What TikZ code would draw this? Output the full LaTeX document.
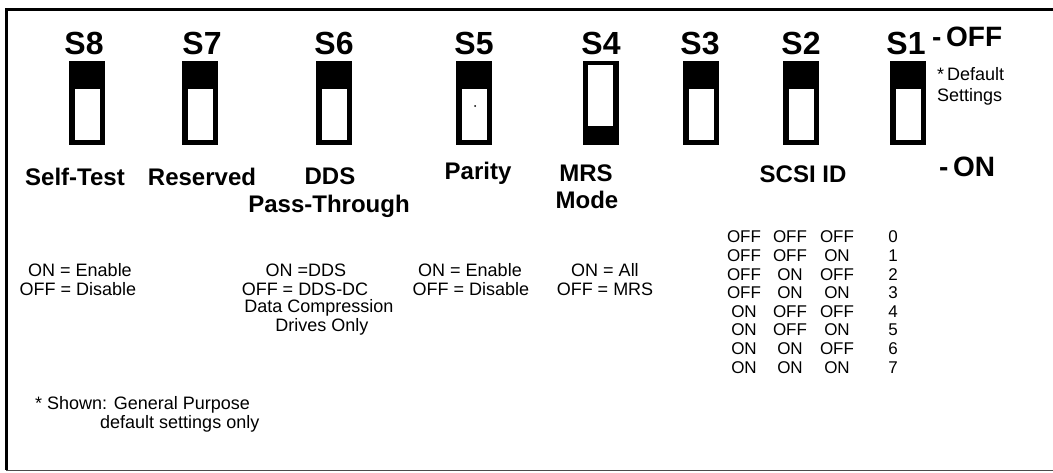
\documentclass[tikz,border=0pt]{standalone}
\usepackage{fontspec}
\setmainfont{Liberation Sans}
\begin{document}
\begin{tikzpicture}[x=1pt,y=-1pt,
  big/.style={font=\fontsize{32}{36}\selectfont\bfseries,inner sep=0pt,anchor=base},
  lab/.style={font=\fontsize{24}{28}\selectfont\bfseries,inner sep=0pt},
  onoff/.style={font=\fontsize{28}{32}\selectfont\bfseries,inner sep=0pt,anchor=west},
  small/.style={font=\fontsize{18}{20}\selectfont,inner sep=0pt},
  tab/.style={font=\fontsize{17}{19}\selectfont,inner sep=0pt}]
\useasboundingbox (0,0) rectangle (1053,472);
\fill[white] (0,0) rectangle (1053,472);
% frame
\draw[line width=3pt] (1060,9) -- (6,9) -- (6,470);
\draw[line width=1pt,black!70] (6,470) -- (1060,470);
% switches
\newcommand{\swoff}[2]{%
  \fill[black] (#1-18,61) rectangle (#1+18,145);
  \fill[white] (#1-12,89) rectangle (#1+13,140);
  \coordinate (#2) at (#1,103);}
\newcommand{\swon}[2]{%
  \fill[black] (#1-18,61) rectangle (#1+18,145);
  \fill[white] (#1-13,65) rectangle (#1+12,126);
  \coordinate (#2) at (#1,103);}
\swoff{87}{sw8}
\swoff{200}{sw7}
\swoff{334}{sw6}
\swoff{474}{sw5}
\swon{601}{sw4}
\swoff{701}{sw3}
\swoff{801}{sw2}
\swoff{908}{sw1}
\fill[black] (475,106) circle (1pt);
% switch names
\node[big] (s8) at (84,54) {S8};
\node[big] (s7) at (202,54) {S7};
\node[big] (s6) at (334,54) {S6};
\node[big] (s5) at (474,54) {S5};
\node[big] (s4) at (601,54) {S4};
\node[big] (s3) at (700,54) {S3};
\node[big] (s2) at (801,54) {S2};
\node[big] (s1) at (906,54) {S1};
\node[onoff] (off) at (932,37) {-\,OFF};
\node[small,anchor=west,align=left,font=\fontsize{18}{21}\selectfont] (def) at (937,86) {*\,Default\\Settings};
\node[onoff] (on) at (939,167) {-\,ON};
% function labels
\node[lab] (st) at (75,177) {Self-Test};
\node[lab] (rs) at (202,177) {Reserved};
\node[lab] (dds) at (330,176) {DDS};
\node[lab] (pt) at (329,206) {Pass-Through};
\node[lab] (par) at (478,173) {Parity};
\node[lab] (mrs) at (586,173) {MRS};
\node[lab] (mode) at (587,200) {Mode};
\node[lab] (scsi) at (803,174) {SCSI ID};
% descriptions
\node[small] (a1) at (80,270) {ON = Enable};
\node[small] (a2) at (78,289) {OFF = Disable};
\node[small] (b1) at (306,270) {ON =DDS};
\node[small] (b2) at (305,289) {OFF = DDS-DC};
\node[small] (b3) at (319,308) {Data Compression};
\node[small] (b4) at (322,327) {Drives Only};
\node[small] (c1) at (470,270) {ON = Enable};
\node[small] (c2) at (471,289) {OFF = Disable};
\node[small] (d1) at (605,270) {ON = All};
\node[small] (d2) at (605,289) {OFF = MRS};
% SCSI table
\foreach \a/\b/\c/\n [count=\i from 0] in {OFF/OFF/OFF/0,OFF/OFF/ON/1,OFF/ON/OFF/2,OFF/ON/ON/3,ON/OFF/OFF/4,ON/OFF/ON/5,ON/ON/OFF/6,ON/ON/ON/7}{
  \node[tab] (t\i a) at (744,237+18.6*\i) {\a};
  \node[tab] (t\i b) at (790,237+18.6*\i) {\b};
  \node[tab] (t\i c) at (837,237+18.6*\i) {\c};
  \node[tab] (t\i n) at (893,237+18.6*\i) {\n};
}
% footnote
\node[small,anchor=west] (f1) at (35,405) {* Shown: General Purpose};
\node[small,anchor=west] (f2) at (100,424) {default settings only};
\end{tikzpicture}
\end{document}
